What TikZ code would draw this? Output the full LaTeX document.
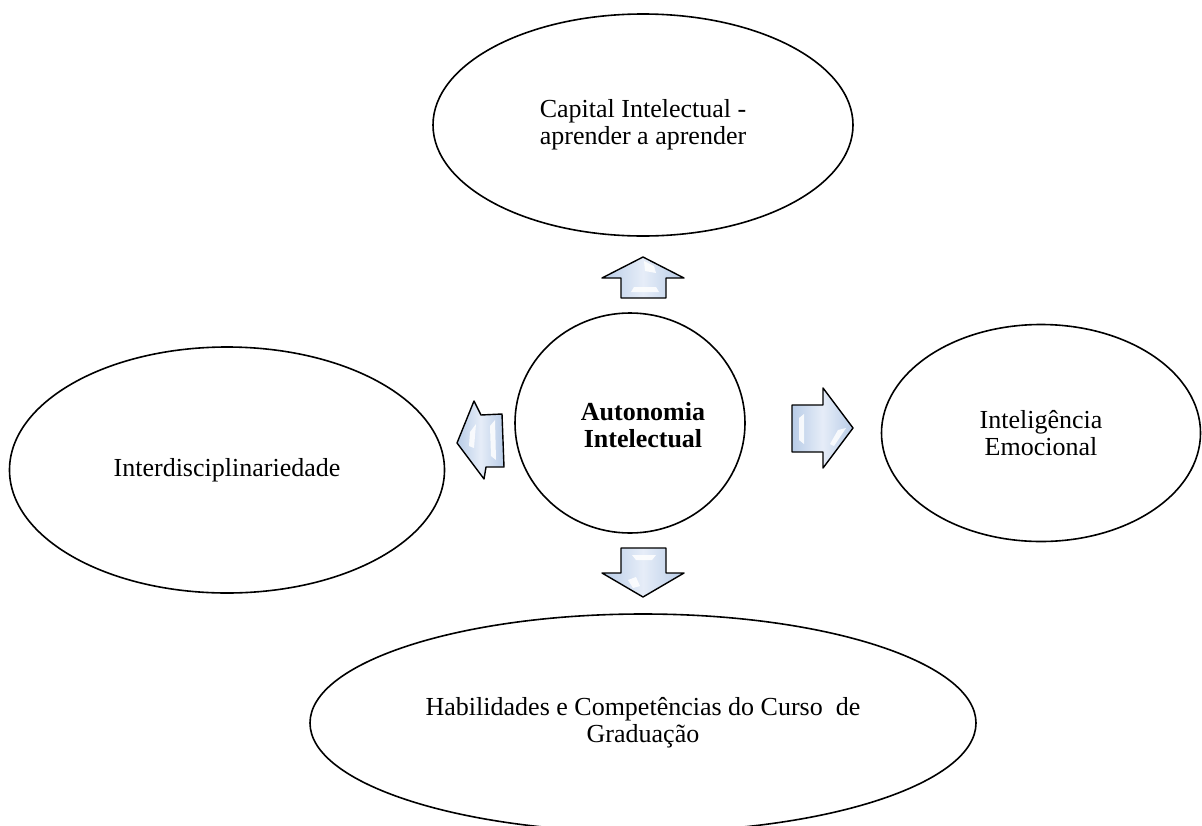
\documentclass[tikz,border=0pt]{standalone}
\usepackage{fontspec}
\setmainfont{Liberation Serif}
\usetikzlibrary{shapes.geometric}
\definecolor{arrowlight}{RGB}{230,237,248}
\definecolor{arrowdark}{RGB}{184,204,231}
\tikzset{
  bubble/.style={ellipse, draw=black, line width=1.6pt, inner sep=0pt, align=center,
    font=\fontsize{26}{27}\selectfont},
  blockarrow/.style={draw=black, line width=1.4pt, line join=round, left color=arrowdark, right color=arrowdark, middle color=arrowlight},
  gloss/.style={fill=white, opacity=0.85, draw=none}
}
\begin{document}
\begin{tikzpicture}[x=1pt,y=-1pt]
\useasboundingbox (0,0) rectangle (1202,825);
\clip (0,0) rectangle (1202,825);
% nodes
\node[bubble, minimum width=420pt, minimum height=222pt] (top) at (643,125) {Capital Intelectual -\\aprender a aprender};
\node[bubble, minimum width=230pt, minimum height=220pt] (center) at (630,423) {};
\node[font=\fontsize{26}{27}\selectfont\bfseries, align=center, inner sep=0pt] (centertext) at (643,425) {Autonomia\\Intelectual};
\node[bubble, minimum width=319pt, minimum height=217pt] (right) at (1041,433) {Inteligência\\Emocional};
\node[bubble, minimum width=435pt, minimum height=246pt] (left) at (227,470) {Interdisciplinariedade};
\node[bubble, minimum width=666pt, minimum height=218pt] (bottom) at (643,723) {Habilidades e Competências do Curso\ \ de\\Graduação};
% up arrow
\coordinate (ua) at (643,257);
\path[blockarrow] (ua) -- (684,278) -- (666,278) -- (666,298) -- (621,298) -- (621,278) -- (602,278) -- cycle;
\path[gloss] (644,261) -- (654,266) -- (656,273) -- (645,271) -- cycle;
\path[gloss] (634,287) -- (656,287) -- (659,292) -- (631,292) -- cycle;
% down arrow
\coordinate (da) at (643,597);
\path[blockarrow] (621,548) -- (666,548) -- (666,573) -- (684,573) -- (da) -- (602,573) -- (621,573) -- cycle;
\path[gloss] (632,555) -- (656,555) -- (652,560) -- (636,560) -- cycle;
\path[gloss] (628,580) -- (636,577) -- (640,586) -- (633,588) -- cycle;
% right arrow
\coordinate (ra) at (853,428);
\path[blockarrow] (792,405) -- (823,405) -- (823,388) -- (ra) -- (823,468) -- (823,452) -- (792,452) -- cycle;
\path[gloss] (799,418) -- (804,414) -- (804,444) -- (799,440) -- cycle;
\path[gloss] (838,430) -- (846,428) -- (834,446) -- (830,444) -- cycle;
% left arrow
\coordinate (la) at (457,443);
\path[blockarrow] (la) -- (474,401) -- (481,415) -- (502,414) -- (504,467) -- (486,467) -- (484,479) -- cycle;
\path[gloss] (470,432) -- (476,424) -- (474,448) -- (469,446) -- cycle;
\path[gloss] (490,426) -- (495,420) -- (496,460) -- (491,456) -- cycle;
\end{tikzpicture}
\end{document}
